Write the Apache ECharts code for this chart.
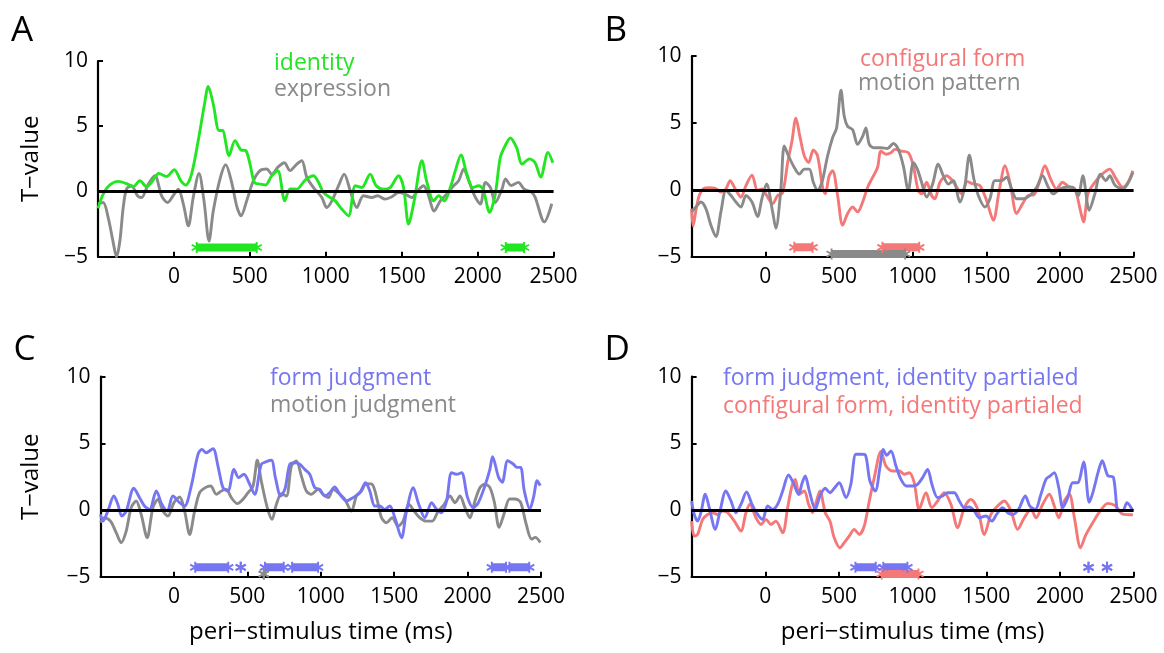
<!DOCTYPE html>
<html>
<head>
<meta charset="utf-8">
<title>T-value time courses</title>
<script src="https://cdn.jsdelivr.net/npm/echarts@6/dist/echarts.min.js"></script>
<style>
  html, body { margin: 0; padding: 0; background: #fff; }
  #main { width: 1164px; height: 653px; }
</style>
</head>
<body>
<div id="main"></div>
<script>
// time axis ticks (ms); -500 is the left edge and carries no label
var timeTicks = [-500, 0, 500, 1000, 1500, 2000, 2500];
var tTicks = [-5, 0, 5, 10];

// A: identity / expression  [ms, T]
var identityA = [[-500,-1.3],[-466,-0.2],[-422,0.5],[-367,0.77],[-312,0.6],[-268,0.36],[-224,0.82],[-180,0.36],[-147,0.7],[-99,1.38],[-48,1.15],[2,1.67],[46,0.82],[79,0.5],[116,1.33],[160,3.9],[200,6.6],[226,8.05],[259,6.7],[297,4.67],[319,4.67],[363,2.74],[402,3.9],[442,3.18],[473,3.13],[501,2.1],[530,0.7],[567,0.56],[604,0.5],[644,1.2],[684,1.6],[730,-0.72],[765,0.2],[809,0.18],[864,0.87],[919,1.2],[952,0.7],[985,-0.08],[1029,-0.46],[1062,-0.72],[1106,-1.36],[1150,-1.87],[1194,0.44],[1237,0.3],[1292,1.33],[1332,0.44],[1380,0.18],[1424,0.3],[1479,1.2],[1512,0.3],[1545,-2.5],[1582,-0.72],[1633,2.36],[1666,0.7],[1710,-0.72],[1743,-0.33],[1780,-0.72],[1820,0.3],[1853,1.6],[1890,2.8],[1929,1.33],[1969,0.3],[2006,0.44],[2035,0.18],[2079,-1.6],[2116,-0.2],[2149,2.6],[2185,3.6],[2215,4.1],[2256,3.37],[2293,2.1],[2341,2.5],[2378,2.2],[2415,1.1],[2463,3.0],[2495,2.2]];
var expressionA = [[-500,-0.97],[-466,-0.85],[-433,-2.0],[-400,-3.9],[-378,-5.0],[-356,-3.8],[-334,-1.23],[-312,0.18],[-279,0.44],[-240,-0.33],[-213,-0.46],[-169,0.56],[-125,1.2],[-81,-0.33],[-42,-0.85],[2,-0.2],[29,0.18],[62,-0.97],[95,-2.64],[127,-0.46],[165,1.38],[198,-0.72],[231,-3.8],[259,-1.5],[303,0.95],[341,2.05],[380,0.7],[413,-1.1],[442,-1.87],[479,-0.72],[523,0.82],[567,1.6],[611,1.72],[644,1.33],[688,1.9],[727,2.2],[765,1.6],[809,2.1],[842,2.36],[875,1.08],[919,0.3],[974,-0.46],[1006,-1.23],[1040,-0.72],[1084,0.44],[1121,1.33],[1161,0.05],[1204,-1.23],[1248,-0.33],[1303,-0.46],[1341,-0.33],[1391,-0.59],[1435,-0.41],[1479,-0.08],[1523,-0.2],[1567,-0.46],[1604,0.05],[1644,0.44],[1670,-0.08],[1714,-1.5],[1754,-0.72],[1798,-0.2],[1842,0.44],[1875,0.82],[1908,1.72],[1941,0.82],[1985,-0.46],[2018,-0.97],[2051,0.7],[2084,0.3],[2116,-0.85],[2160,0.18],[2183,0.96],[2220,0.46],[2268,0.7],[2305,0.2],[2354,-0.05],[2378,-0.43],[2439,-2.33],[2488,-0.94]];

// B: configural form / motion pattern
var configFormB = [[-500,-1.4],[-490,-2.7],[-470,-1.5],[-448,-0.42],[-414,0.12],[-380,0.17],[-339,0.12],[-301,-0.17],[-267,0.07],[-238,0.69],[-204,0.07],[-165,-0.54],[-131,0.32],[-90,1.1],[-52,-0.05],[-23,0.07],[9,-0.42],[50,-1.03],[84,-0.42],[118,-0.22],[152,2.04],[181,3.64],[208,5.37],[235,4.0],[265,2.54],[294,2.04],[326,2.98],[355,2.54],[389,0.2],[407,-0.3],[434,1.06],[457,1.43],[491,-0.42],[525,-2.64],[559,-1.77],[593,-1.28],[627,-1.65],[661,-0.91],[695,0.2],[729,0.94],[762,1.67],[785,2.9],[819,2.66],[853,2.78],[880,3.03],[925,2.9],[971,2.78],[1005,1.8],[1038,-0.05],[1061,-0.3],[1095,0.57],[1129,-0.42],[1151,-0.67],[1186,0.57],[1231,1.06],[1265,0.76],[1299,0.2],[1333,-0.3],[1371,0.62],[1412,0.44],[1457,0.32],[1502,-0.79],[1548,-2.27],[1588,-0.05],[1627,1.8],[1665,0.32],[1706,-1.77],[1747,-1.03],[1785,-0.42],[1823,-0.37],[1860,0.57],[1898,1.8],[1937,0.81],[1977,0.07],[2018,0.57],[2056,0.27],[2101,0.07],[2140,-1.6],[2160,-2.4],[2190,-0.3],[2237,0.57],[2287,1.18],[2338,1.55],[2375,0.94],[2426,0.2],[2463,0.57],[2495,1.43]];
var motionPatternB = [[-500,-1.65],[-471,-1.28],[-437,-0.91],[-403,-1.4],[-369,-2.64],[-335,-3.5],[-301,-1.65],[-267,-0.05],[-233,-0.42],[-199,-0.91],[-165,-1.28],[-131,-0.42],[-90,-0.91],[-52,-2.0],[-23,-0.67],[9,0.44],[50,-1.65],[72,-2.88],[106,0.07],[129,3.28],[158,2.54],[197,1.67],[231,1.18],[265,1.55],[299,1.55],[326,0.57],[355,-0.05],[385,0.57],[423,2.54],[457,3.9],[484,4.63],[514,7.46],[536,5.5],[559,4.75],[593,4.5],[627,3.4],[661,4.0],[683,4.63],[706,3.4],[740,3.15],[785,3.15],[830,3.1],[869,3.47],[903,3.03],[937,1.8],[971,-0.05],[1005,2.04],[1032,1.55],[1061,0.57],[1095,-0.54],[1136,0.44],[1174,1.92],[1208,1.06],[1242,0.44],[1276,0.69],[1321,-0.91],[1355,0.32],[1385,2.59],[1416,0.81],[1446,-0.42],[1491,-1.28],[1525,-0.67],[1559,0.69],[1604,0.69],[1638,0.94],[1672,0.07],[1706,-0.67],[1751,-0.67],[1796,-0.42],[1842,0.2],[1882,1.06],[1921,0.2],[1955,-0.3],[2000,0.07],[2045,0.2],[2086,0.2],[2124,-0.42],[2155,1.06],[2199,-1.53],[2237,-0.3],[2275,1.18],[2312,0.69],[2338,1.06],[2375,0.32],[2426,0.07],[2495,1.3]];

// C: form judgment / motion judgment
var formJudgC = [[-500,-0.33],[-484,-0.83],[-450,-0.08],[-409,1.05],[-382,0.43],[-355,-0.45],[-325,-0.08],[-273,1.63],[-234,0.93],[-200,0.3],[-166,0.05],[-120,1.43],[-82,0.43],[-45,-0.08],[-7,1.05],[39,0.55],[73,0.3],[118,1.8],[164,4.18],[191,4.55],[220,4.3],[266,4.6],[300,3.3],[334,1.68],[368,1.43],[409,3.05],[441,2.43],[477,2.68],[516,1.93],[550,1.18],[595,3.43],[630,3.63],[664,3.73],[691,2.43],[727,1.05],[757,1.6],[789,3.43],[823,3.55],[857,3.43],[891,3.05],[925,2.68],[959,1.68],[993,1.55],[1027,1.05],[1061,1.3],[1095,1.73],[1130,1.18],[1175,0.68],[1220,0.93],[1266,1.3],[1305,2.05],[1334,1.43],[1368,0.3],[1402,0.3],[1436,0.05],[1470,0.3],[1505,-0.58],[1550,-2.08],[1584,-0.08],[1630,1.68],[1664,0.55],[1709,-0.58],[1755,0.55],[1789,0.05],[1823,-0.2],[1857,0.68],[1891,2.8],[1925,2.68],[1959,2.8],[2000,0.93],[2039,0.18],[2073,0.55],[2114,1.68],[2152,3.05],[2170,4.0],[2211,2.45],[2236,2.08],[2273,3.7],[2311,3.45],[2336,3.2],[2361,3.2],[2386,1.45],[2424,0.08],[2449,0.95],[2474,2.2],[2495,1.83]];
var motionJudgC = [[-500,-0.95],[-473,-0.58],[-432,-0.83],[-393,-1.7],[-359,-2.45],[-325,-1.58],[-291,0.18],[-257,0.68],[-223,-0.33],[-182,-2.08],[-143,0.18],[-109,0.8],[-75,-0.08],[-41,-0.45],[0,0.55],[39,0.98],[73,-0.08],[107,-1.83],[141,-0.08],[175,1.3],[214,1.68],[250,1.8],[289,1.18],[323,1.43],[357,1.55],[391,0.93],[432,0.48],[470,0.8],[505,1.3],[539,1.8],[568,3.73],[595,2.18],[636,0.18],[668,-0.7],[698,0.43],[732,1.23],[766,1.05],[800,3.3],[834,3.68],[868,2.55],[902,1.43],[936,1.18],[982,1.55],[1016,1.18],[1052,0.93],[1084,1.55],[1118,1.3],[1164,0.8],[1209,-0.08],[1243,1.05],[1277,1.43],[1311,1.98],[1350,1.93],[1386,0.68],[1414,-0.58],[1448,-0.95],[1486,-0.58],[1527,-1.2],[1561,-0.83],[1600,0.43],[1636,-0.08],[1675,-0.58],[1720,-0.83],[1759,-0.83],[1800,-0.08],[1841,0.43],[1880,1.05],[1914,0.55],[1948,1.05],[1982,0.18],[2016,-0.58],[2050,0.68],[2084,1.68],[2118,1.93],[2152,1.68],[2182,0.6],[2215,-1.3],[2248,-0.3],[2286,0.83],[2323,0.83],[2361,0.58],[2399,-1.05],[2436,-2.18],[2461,-2.05],[2495,-2.43]];

// D: identity partialed out
var formPartD = [[-500,0.68],[-482,-0.33],[-459,-0.83],[-437,-0.2],[-407,1.18],[-380,0.18],[-339,-1.45],[-312,-0.33],[-267,1.43],[-233,0.68],[-199,-0.2],[-165,0.43],[-127,1.35],[-90,0.43],[-52,-0.33],[-18,-0.7],[16,0.3],[50,0.05],[84,0.43],[118,1.43],[158,2.63],[190,2.05],[226,1.18],[249,1.98],[271,2.55],[299,1.43],[339,0.05],[371,1.05],[407,1.63],[439,1.3],[468,1.63],[502,2.05],[548,0.93],[581,1.93],[615,4.18],[649,4.18],[679,4.13],[710,2.18],[747,1.43],[778,3.18],[801,4.55],[824,4.1],[853,4.43],[887,3.3],[921,2.3],[959,1.8],[1000,1.8],[1034,1.93],[1068,2.43],[1102,3.05],[1131,1.93],[1170,0.93],[1204,1.05],[1238,1.3],[1283,1.3],[1317,0.68],[1351,0.18],[1385,0.23],[1419,-0.08],[1453,-0.58],[1498,-0.45],[1538,-0.83],[1570,-0.33],[1611,0.18],[1645,-0.2],[1679,-0.33],[1719,0.05],[1765,1.05],[1796,0.3],[1833,0.05],[1871,1.18],[1905,2.3],[1932,2.55],[1962,2.8],[1992,1.68],[2019,0.18],[2053,0.93],[2087,2.05],[2120,2.05],[2161,3.6],[2199,0.58],[2224,1.33],[2262,2.95],[2287,3.7],[2325,2.58],[2363,2.45],[2395,-0.05],[2426,-0.05],[2455,0.55],[2495,-0.05]];
var configPartD = [[-500,-0.83],[-482,-1.95],[-459,-1.83],[-425,-0.7],[-391,-0.33],[-357,-0.2],[-324,-0.33],[-290,-0.08],[-256,-0.2],[-210,-0.83],[-165,-1.58],[-131,-0.2],[-104,0.43],[-63,-0.58],[-29,-1.08],[5,-0.7],[38,-1.08],[72,-0.83],[118,-1.7],[152,0.18],[181,1.8],[204,2.3],[231,1.18],[265,1.43],[294,0.43],[321,-0.2],[344,0.55],[371,1.43],[407,-0.2],[439,-0.83],[468,-2.08],[507,-2.83],[536,-2.45],[570,-1.95],[604,-1.45],[638,-1.83],[672,-1.2],[706,0.68],[740,2.43],[785,4.4],[819,3.3],[864,2.93],[910,2.93],[944,2.68],[978,2.8],[1011,2.05],[1045,0.05],[1091,1.3],[1131,0.18],[1170,0.68],[1215,1.3],[1260,0.43],[1306,-1.33],[1351,0.18],[1396,0.8],[1442,0.05],[1487,-1.83],[1532,-0.33],[1577,0.3],[1623,0.68],[1668,-0.08],[1713,-1.45],[1758,-0.58],[1804,0.05],[1838,-0.58],[1883,0.43],[1928,1.18],[1962,0.3],[1992,-0.58],[2030,0.68],[2064,1.18],[2098,-0.58],[2140,-2.83],[2174,-1.9],[2224,-0.93],[2275,-0.05],[2325,0.5],[2375,0.33],[2426,-0.3],[2495,-0.35]];

// significant time windows [start ms, end ms]; start == end is a single asterisk
var sigIdentityA = [[150,545],[2185,2305]];
var sigConfigB = [[197,321],[795,1045]];
var sigMotionB = [[450,950]];
var sigFormC = [[145,370],[455,455],[620,748],[805,982],[2165,2262],[2285,2420]];
var sigMotionC = [[612,612]];
var sigFormD = [[612,750],[801,965],[2194,2194],[2320,2320]];
var sigConfigD = [[790,1040]];
var SIG_HI = -4.3, SIG_LO = -4.8;

var FONT = '"Open Sans", "DejaVu Sans", sans-serif';
var GREEN = '#22e622', GRAY = '#8a8a8a', RED = '#f47878', BLUE = '#7676f2';
var ASTERISK = 'path://M-1,-6L1,-6L1,6L-1,6Z M-5.696,-2.134L-4.696,-3.866L5.696,2.134L4.696,3.866Z M4.696,-3.866L5.696,-2.134L-4.696,3.866L-5.696,2.134Z';

var panels = [
    { letter: 'A', grid: { left: 98, top: 61, width: 455.6, height: 195.7 },
      lines: [{ data: expressionA, color: GRAY }, { data: identityA, color: GREEN }],
      sig: [{ win: sigIdentityA, y: SIG_HI, color: GREEN }],
      legend: [{ text: 'identity', color: GREEN, x: 274, y: 63 }, { text: 'expression', color: GRAY, x: 274, y: 89 }],
      yName: true, xName: false },
    { letter: 'B', grid: { left: 691.6, top: 56.2, width: 442, height: 200.5 },
      lines: [{ data: configFormB, color: RED }, { data: motionPatternB, color: GRAY }],
      sig: [{ win: sigConfigB, y: SIG_HI, color: RED }, { win: sigMotionB, y: SIG_LO, color: GRAY }],
      legend: [{ text: 'configural form', color: RED, x: 860, y: 59 }, { text: 'motion pattern', color: GRAY, x: 858, y: 83 }],
      yName: false, xName: false },
    { letter: 'C', grid: { left: 100.5, top: 376.7, width: 440.5, height: 200 },
      lines: [{ data: motionJudgC, color: GRAY }, { data: formJudgC, color: BLUE }],
      sig: [{ win: sigFormC, y: SIG_HI, color: BLUE }, { win: sigMotionC, y: SIG_LO, color: GRAY }],
      legend: [{ text: 'form judgment', color: BLUE, x: 270, y: 378 }, { text: 'motion judgment', color: GRAY, x: 270, y: 405 }],
      yName: true, xName: true },
    { letter: 'D', grid: { left: 691.6, top: 376.7, width: 442, height: 200 },
      lines: [{ data: configPartD, color: RED }, { data: formPartD, color: BLUE }],
      sig: [{ win: sigFormD, y: SIG_HI, color: BLUE }, { win: sigConfigD, y: SIG_LO, color: RED }],
      legend: [{ text: 'form judgment, identity partialed', color: BLUE, x: 723, y: 378 },
               { text: 'configural form, identity partialed', color: RED, x: 723, y: 406 }],
      yName: false, xName: true }
];

function minusSign(v) {
    return v < 0 ? '\u2212' + Math.abs(v) : String(v);
}

var grids = [], xAxes = [], yAxes = [], series = [], graphics = [];

panels.forEach(function(p, i) {
    grids.push({ left: p.grid.left, top: p.grid.top, width: p.grid.width, height: p.grid.height,
                 outerBoundsMode: 'none', containLabel: false });
    xAxes.push({
        gridIndex: i, type: 'value', min: timeTicks[0], max: timeTicks[timeTicks.length - 1],
        interval: timeTicks[1] - timeTicks[0],
        axisLine: { show: true, onZero: false, lineStyle: { color: '#000', width: 2.2 } },
        axisTick: { show: true, inside: true, length: 5, lineStyle: { color: '#000', width: 2 } },
        axisLabel: { margin: 10, fontSize: 21, fontFamily: FONT, color: '#000',
                     formatter: function(v) { return v === timeTicks[0] ? '' : String(v); } },
        splitLine: { show: false }
    });
    yAxes.push({
        gridIndex: i, type: 'value', min: tTicks[0], max: tTicks[tTicks.length - 1], interval: 5,
        axisLine: { show: true, onZero: false, lineStyle: { color: '#000', width: 2.2 } },
        axisTick: { show: true, inside: true, length: 5, lineStyle: { color: '#000', width: 2 } },
        axisLabel: { margin: 10, fontSize: 21, fontFamily: FONT, color: '#000', formatter: minusSign },
        splitLine: { show: false }
    });

    p.lines.forEach(function(l, k) {
        series.push({
            type: 'line', xAxisIndex: i, yAxisIndex: i, data: l.data,
            showSymbol: false, smooth: 0.3, silent: true, z: 2 + k,
            lineStyle: { color: l.color, width: 2.9 },
            markLine: k === p.lines.length - 1 ? {
                silent: true, symbol: 'none', label: { show: false },
                lineStyle: { color: '#000', width: 2.8, type: 'solid' },
                data: [{ yAxis: 0 }]
            } : undefined
        });
    });

    // significance marks: runs of asterisks below the traces
    p.sig.forEach(function(s) {
        s.win.forEach(function(w) {
            series.push({
                type: 'line', xAxisIndex: i, yAxisIndex: i,
                data: [[w[0], s.y], [w[1], s.y]],
                symbol: ASTERISK, symbolSize: 11, showSymbol: true, silent: true, z: 6,
                itemStyle: { color: s.color },
                lineStyle: { color: s.color, width: 8 }
            });
        });
    });

    graphics.push({ type: 'text', x: p.grid.left - 87, y: p.letter < 'C' ? 31 : 350,
        style: { text: p.letter, fontSize: 35, fontFamily: FONT, fill: '#000',
                 align: 'left', verticalAlign: 'middle' } });
    p.legend.forEach(function(t) {
        graphics.push({ type: 'text', x: t.x, y: t.y,
            style: { text: t.text, fontSize: 23, fontFamily: FONT, fill: t.color,
                     align: 'left', verticalAlign: 'middle' } });
    });
    if (p.yName) {
        graphics.push({ type: 'text', x: 31, y: p.grid.top + p.grid.height / 2, rotation: Math.PI / 2,
            style: { text: 'T\u2212value', fontSize: 24, fontFamily: FONT, fill: '#000',
                     align: 'center', verticalAlign: 'middle' } });
    }
    if (p.xName) {
        graphics.push({ type: 'text', x: p.grid.left + p.grid.width / 2, y: 632,
            style: { text: 'peri\u2212stimulus time (ms)', fontSize: 24, fontFamily: FONT, fill: '#000',
                     align: 'center', verticalAlign: 'middle' } });
    }
});

var chart = echarts.init(document.getElementById('main'), null, { renderer: 'canvas' });
chart.setOption({
    backgroundColor: '#fff',
    animation: false,
    grid: grids,
    xAxis: xAxes,
    yAxis: yAxes,
    series: series,
    graphic: graphics
});
</script>
</body>
</html>
